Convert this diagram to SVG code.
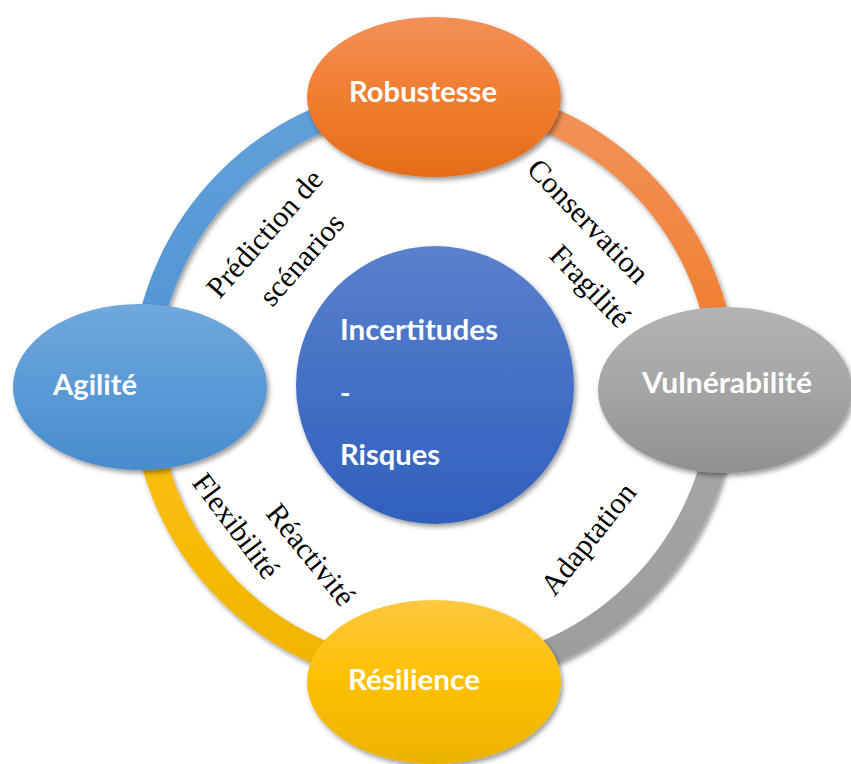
<svg xmlns="http://www.w3.org/2000/svg" width="851" height="764" viewBox="0 0 851 764">
<defs>
<filter id="sh" x="-20%" y="-20%" width="140%" height="140%">
<feDropShadow dx="2" dy="3" stdDeviation="2.5" flood-color="#000" flood-opacity="0.4"/>
</filter>
<linearGradient id="gOr" x1="0" y1="0" x2="0" y2="1">
<stop offset="0" stop-color="#F29058"/><stop offset="0.5" stop-color="#F17D2F"/><stop offset="1" stop-color="#E56C18"/>
</linearGradient>
<linearGradient id="gBl" x1="0" y1="0" x2="0" y2="1">
<stop offset="0" stop-color="#70A8DD"/><stop offset="0.5" stop-color="#5A9AD6"/><stop offset="1" stop-color="#488CCD"/>
</linearGradient>
<linearGradient id="gGr" x1="0" y1="0" x2="0" y2="1">
<stop offset="0" stop-color="#B3B3B3"/><stop offset="0.5" stop-color="#A5A5A5"/><stop offset="1" stop-color="#909090"/>
</linearGradient>
<linearGradient id="gYe" x1="0" y1="0" x2="0" y2="1">
<stop offset="0" stop-color="#FFC83F"/><stop offset="0.5" stop-color="#FCC000"/><stop offset="1" stop-color="#EBB200"/>
</linearGradient>
<linearGradient id="gCe" x1="0" y1="0" x2="0" y2="1">
<stop offset="0" stop-color="#5B80CC"/><stop offset="0.5" stop-color="#4470C6"/><stop offset="1" stop-color="#2F60BC"/>
</linearGradient>
<linearGradient id="aOr" gradientUnits="userSpaceOnUse" x1="0" y1="96" x2="0" y2="386">
<stop offset="0" stop-color="#F2935C"/><stop offset="1" stop-color="#F07A25"/>
</linearGradient>
<linearGradient id="aBl" gradientUnits="userSpaceOnUse" x1="0" y1="96" x2="0" y2="386">
<stop offset="0" stop-color="#62A0D9"/><stop offset="1" stop-color="#4F92D2"/>
</linearGradient>
<linearGradient id="aGr" gradientUnits="userSpaceOnUse" x1="0" y1="386" x2="0" y2="676">
<stop offset="0" stop-color="#A8A8A8"/><stop offset="1" stop-color="#9C9C9C"/>
</linearGradient>
<linearGradient id="aYe" gradientUnits="userSpaceOnUse" x1="0" y1="386" x2="0" y2="676">
<stop offset="0" stop-color="#FFC20E"/><stop offset="1" stop-color="#EEB400"/>
</linearGradient>
</defs>
<style>
.arc{fill:none;stroke-width:26;filter:url(#sh)}
.nd{filter:url(#sh)}
.lbl{font-family:Lato,"Liberation Sans",sans-serif;font-weight:bold;font-size:28px;fill:#fff}
.cv{font-family:"Liberation Serif","DejaVu Serif",serif;font-size:30px;fill:#000;text-anchor:middle}
</style>
<rect width="851" height="764" fill="#fff"/>
<g id="connectors">
<path class="arc" stroke="url(#aBl)" d="M144,386 A290,290 0 0 1 434,96"/>
<path class="arc" stroke="url(#aOr)" d="M434,96 A290,290 0 0 1 724,386"/>
<path class="arc" stroke="url(#aGr)" d="M724,386 A290,290 0 0 1 434,676"/>
<path class="arc" stroke="url(#aYe)" d="M434,676 A290,290 0 0 1 144,386"/>
</g>
<g id="center">
<circle class="nd" cx="435" cy="385" r="139" fill="url(#gCe)"/>
<text class="lbl" x="340" y="340" textLength="158" lengthAdjust="spacingAndGlyphs">Incertitudes</text>
<text class="lbl" x="340" y="403">-</text>
<text class="lbl" x="340" y="465" textLength="100" lengthAdjust="spacingAndGlyphs">Risques</text>
</g>
<g id="labels">
<text class="cv" transform="translate(272,240) rotate(-48.7)">Prédiction de</text>
<text class="cv" transform="translate(309,266) rotate(-48.7)">scénarios</text>
<text class="cv" transform="translate(581,228) rotate(46)">Conservation</text>
<text class="cv" transform="translate(583,293) rotate(46)">Fragilité</text>
<text class="cv" transform="translate(596,545) rotate(-51.5)">Adaptation</text>
<text class="cv" transform="translate(228,532) rotate(53)">Flexibilité</text>
<text class="cv" transform="translate(303,561) rotate(51)">Réactivité</text>
</g>
<g id="robustesse">
<ellipse class="nd" cx="434" cy="97" rx="127" ry="80" fill="url(#gOr)"/>
<text class="lbl" x="349" y="102" textLength="148" lengthAdjust="spacingAndGlyphs">Robustesse</text>
</g>
<g id="agilite">
<ellipse class="nd" cx="140" cy="387" rx="127" ry="83" fill="url(#gBl)"/>
<text class="lbl" x="53" y="395" textLength="84" lengthAdjust="spacingAndGlyphs">Agilité</text>
</g>
<g id="vulnerabilite">
<ellipse class="nd" cx="725" cy="390" rx="127" ry="83" fill="url(#gGr)"/>
<text class="lbl" x="642" y="393" textLength="170" lengthAdjust="spacingAndGlyphs">Vulnérabilité</text>
</g>
<g id="resilience">
<ellipse class="nd" cx="434" cy="682" rx="127" ry="82" fill="url(#gYe)"/>
<text class="lbl" x="348" y="690" textLength="132" lengthAdjust="spacingAndGlyphs">Résilience</text>
</g>
</svg>
